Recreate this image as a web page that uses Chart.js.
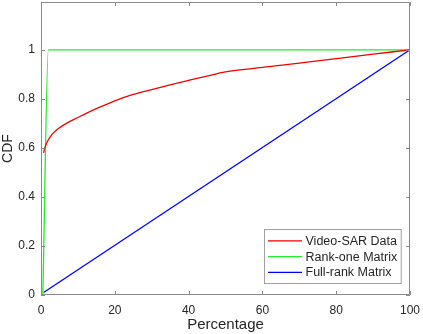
<!DOCTYPE html>
<html>
<head>
<meta charset="utf-8">
<script src="https://cdn.jsdelivr.net/npm/chart.js@4.4.1/dist/chart.umd.min.js"></script>
<style>
  html, body { margin: 0; padding: 0; background: #fff; }
  #wrap { width: 423px; height: 334px; }
</style>
</head>
<body>
<div id="wrap"><canvas id="cdf"></canvas></div>
<script>
// values
const seriesLabels = ["Video-SAR Data", "Rank-one Matrix", "Full-rank Matrix"];
const seriesColors = ["#f00000", "#22ee22", "#0000ff"];

const videoX = [0.7, 1, 1.5, 2, 3, 4, 5, 6, 8, 10, 12, 15, 20, 25, 30, 35, 40, 45, 50, 60, 70, 80, 90, 100];
const videoY = [0.58, 0.598, 0.618, 0.633, 0.655, 0.67, 0.682, 0.692, 0.709, 0.724, 0.739, 0.76, 0.792, 0.818, 0.838, 0.857, 0.875, 0.893, 0.91, 0.928, 0.946, 0.964, 0.982, 1];

const rankOneX = [0.5, 2, 100];
const rankOneY = [0, 1, 1];

const fullRankX = [0.7, 100];
const fullRankY = [0.01, 1];

const xTicksMax = 100;
const yTicksMax = 1.195;

const axisColor = "#8a8a8a";
const textColor = "#262626";
const fontFamily = "'Liberation Sans', Arial, sans-serif";

function toPoints(xs, ys) {
    return xs.map((x, i) => ({ x: x, y: ys[i] }));
}

// MATLAB style box: ticks on all four sides pointing inward, plus the legend in the corner
const matlabBox = {
    id: "matlabBox",
    afterDraw(chart) {
        const { ctx, chartArea: a, scales } = chart;
        const x = scales.x, y = scales.y;
        ctx.save();
        ctx.strokeStyle = axisColor;
        ctx.lineWidth = 1;
        ctx.beginPath();
        ctx.rect(Math.round(a.left) + 0.5, Math.round(a.top) + 0.5,
                 Math.round(a.right - a.left) - 1, Math.round(a.bottom - a.top) - 1);
        x.ticks.forEach(t => {
            const px = Math.round(x.getPixelForValue(t.value)) + 0.5;
            ctx.moveTo(px, a.bottom); ctx.lineTo(px, a.bottom - 4);
            ctx.moveTo(px, a.top); ctx.lineTo(px, a.top + 4);
        });
        y.ticks.forEach(t => {
            const py = Math.round(y.getPixelForValue(t.value)) + 0.5;
            ctx.moveTo(a.left, py); ctx.lineTo(a.left + 4, py);
            ctx.moveTo(a.right, py); ctx.lineTo(a.right - 4, py);
        });
        ctx.stroke();

        // legend
        ctx.font = "12.5px " + fontFamily;
        const widths = chart.data.datasets.map(d => ctx.measureText(d.label).width);
        const boxW = 3.5 + 34 + 3.5 + Math.max(...widths) + 4;
        const boxH = 54;
        const bx = Math.round(a.right - 9 - boxW) + 0.5;
        const by = Math.round(a.bottom - 12 - boxH) + 0.5;
        ctx.fillStyle = "#fff";
        ctx.fillRect(bx, by, boxW, boxH);
        ctx.strokeStyle = "#a0a0a0";
        ctx.strokeRect(bx, by, boxW, boxH);
        chart.data.datasets.forEach((d, i) => {
            const ry = by + 11.3 + i * 15.8;
            ctx.strokeStyle = d.borderColor;
            ctx.lineWidth = 1.2;
            ctx.beginPath();
            ctx.moveTo(bx + 3.5, ry); ctx.lineTo(bx + 37.5, ry);
            ctx.stroke();
            ctx.fillStyle = textColor;
            ctx.textBaseline = "middle";
            ctx.textAlign = "left";
            ctx.fillText(d.label, bx + 41, ry + 0.5);
        });
        ctx.restore();
    }
};

new Chart(document.getElementById("cdf"), {
    type: "line",
    data: {
        datasets: [
            { label: seriesLabels[0], data: toPoints(videoX, videoY), borderColor: seriesColors[0] },
            { label: seriesLabels[1], data: toPoints(rankOneX, rankOneY), borderColor: seriesColors[1] },
            { label: seriesLabels[2], data: toPoints(fullRankX, fullRankY), borderColor: seriesColors[2] }
        ]
    },
    options: {
        responsive: true,
        maintainAspectRatio: false,
        animation: false,
        layout: { padding: { top: 2, right: 13, left: 0, bottom: 0 } },
        elements: {
            point: { radius: 0 },
            line: { borderWidth: 1.3, tension: 0.3, cubicInterpolationMode: "monotone" }
        },
        plugins: {
            legend: { display: false },
            tooltip: { enabled: false }
        },
        scales: {
            x: {
                type: "linear",
                min: 0,
                max: xTicksMax,
                grid: { display: false, drawTicks: false },
                border: { display: false },
                ticks: { stepSize: 20, padding: 8, color: textColor, font: { family: fontFamily, size: 12 }, maxRotation: 0 },
                title: { display: true, text: "Percentage", color: textColor, padding: { top: 0, bottom: 0 }, font: { family: fontFamily, size: 15 } },
                afterFit: s => { s.height = 39; s.paddingLeft = 0; s.paddingRight = 0; }
            },
            y: {
                type: "linear",
                min: 0,
                max: yTicksMax,
                grid: { display: false, drawTicks: false },
                border: { display: false },
                ticks: {
                    stepSize: 0.2, includeBounds: false, padding: 6, color: textColor,
                    font: { family: fontFamily, size: 12 },
                    callback: v => String(Number(v.toFixed(1)))
                },
                title: { display: true, text: "CDF", color: textColor, padding: { top: 0, bottom: 0 }, font: { family: fontFamily, size: 14 } },
                afterFit: s => { s.width = 41; s.paddingTop = 0; s.paddingBottom = 0; }
            }
        }
    },
    plugins: [matlabBox]
});
</script>
</body>
</html>
